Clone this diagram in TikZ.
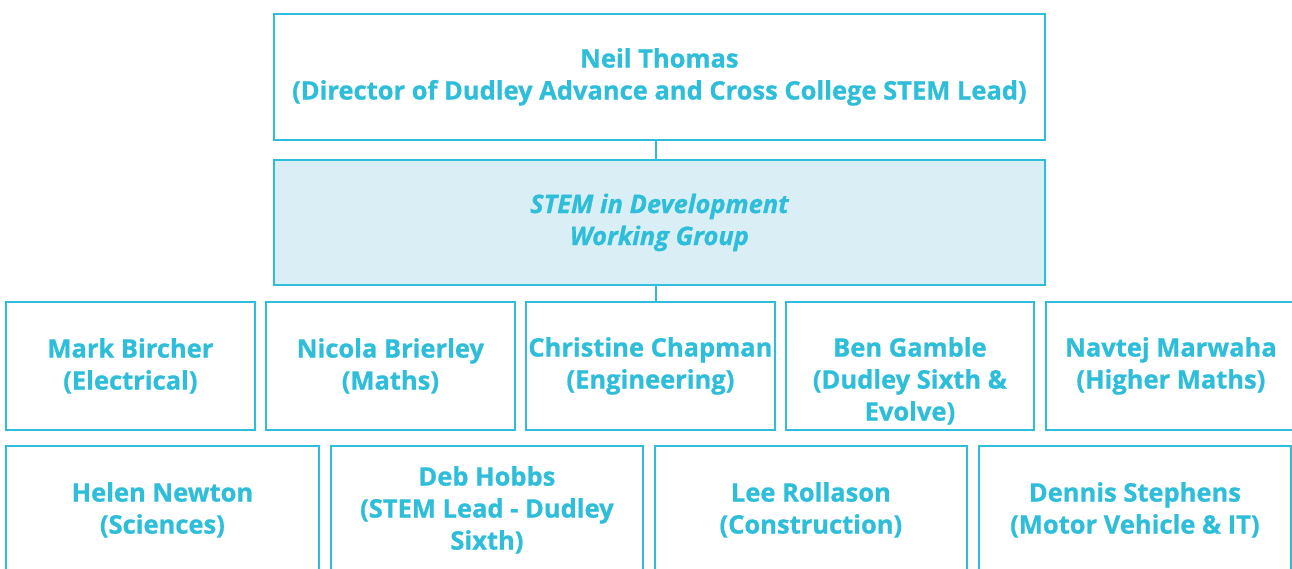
\documentclass[tikz,border=0pt]{standalone}
\usepackage{fontspec}
\setmainfont{Open Sans}[BoldFeatures={FakeBold=0.8},BoldItalicFeatures={FakeBold=0.8}]
\definecolor{stemcyan}{RGB}{46,190,218}
\definecolor{stemfill}{RGB}{217,238,245}
\tikzset{
  box/.style={draw=stemcyan, line width=1.8pt, fill=white, anchor=north west,
    inner sep=0pt, text=stemcyan, align=center,
    font=\fontsize{25.5}{32}\selectfont\bfseries},
  groupbox/.style={box, fill=stemfill, font=\fontsize{25.5}{32}\selectfont\bfseries\itshape},
  txt/.style={inner sep=0pt, text=stemcyan, align=center,
    font=\fontsize{25.5}{32}\selectfont\bfseries},
  link/.style={draw=stemcyan, line width=1.8pt}
}
\begin{document}
\begin{tikzpicture}[x=1pt,y=1pt]
\useasboundingbox (0,0) rectangle (1292,-568);
\clip (0,0) rectangle (1292,-568);

% director and working group
\node[box, minimum width=771, minimum height=126] (neil) at (273,-13)
  {Neil Thomas\\(Director of Dudley Advance and Cross College STEM Lead)};
\node[groupbox, minimum width=771, minimum height=125] (group) at (273,-159)
  {STEM in Development\\Working Group};

% first row of members
\node[box, minimum width=249, minimum height=128] (mark) at (5,-301)
  {Mark Bircher\\(Electrical)};
\node[box, minimum width=249, minimum height=128] (nicola) at (265,-301)
  {Nicola Brierley\\(Maths)};
\node[box, minimum width=249, minimum height=128] (christine) at (525,-301)
  {Christine Chapman\\(Engineering)};
\node[box, minimum width=248, minimum height=128] (ben) at (785,-301) {};
\node[txt] (bentext) at ([yshift=-15]ben.center)
  {Ben Gamble\\(Dudley Sixth \&\\Evolve)};
\node[box, minimum width=250, minimum height=128] (navtej) at (1045,-301)
  {Navtej Marwaha\\(Higher Maths)};

% second row of members
\node[box, minimum width=313, minimum height=128] (helen) at (5,-445)
  {Helen Newton\\(Sciences)};
\node[box, minimum width=312, minimum height=128] (deb) at (330,-445)
  {Deb Hobbs\\(STEM Lead - Dudley\\Sixth)};
\node[box, minimum width=312, minimum height=128] (lee) at (654,-445)
  {Lee Rollason\\(Construction)};
\node[box, minimum width=312, minimum height=128] (dennis) at (978,-445)
  {Dennis Stephens\\(Motor Vehicle \& IT)};

% connectors
\draw[link] ([xshift=-3.5]neil.south) -- ([xshift=-3.5]group.north);
\draw[link] ([xshift=-3.5]group.south) -- ([xshift=-3.5]group.south |- christine.north);
\end{tikzpicture}
\end{document}
